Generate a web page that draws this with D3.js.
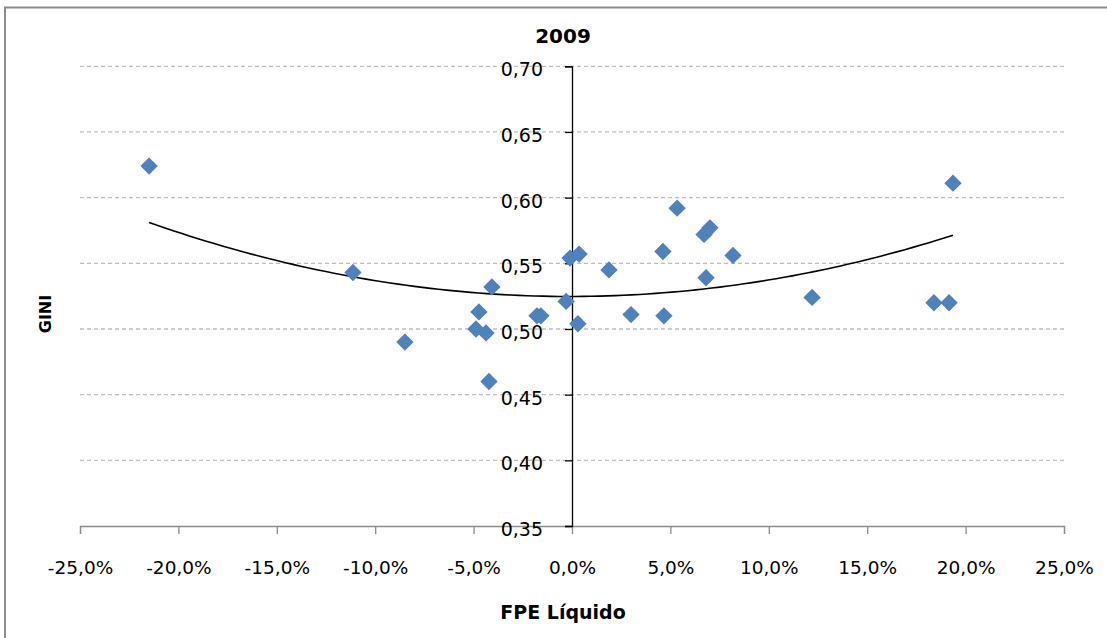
<!DOCTYPE html>
<html>
<head>
<meta charset="utf-8">
<script src="https://cdn.jsdelivr.net/npm/d3@7"></script>
<style>
  body { margin: 0; background: #fff; }
  svg text { font-family: "DejaVu Sans", sans-serif; }
</style>
</head>
<body>
<div id="chart"></div>
<script>
// FPE Liquido (fraction) vs GINI, 2009
const fpe = [-0.2149, -0.1113, -0.0849, -0.0407, -0.0473, -0.0488, -0.0437, -0.0422,
  -0.0178, -0.0158, -0.0030, -0.0010, 0.0036, 0.0030, 0.0188, 0.0300, 0.0462, 0.0467,
  0.0534, 0.0671, 0.0701, 0.0681, 0.0818, 0.1220, 0.1839, 0.1916, 0.1936];
const gini = [0.624, 0.543, 0.490, 0.532, 0.513, 0.500, 0.497, 0.460,
  0.510, 0.510, 0.521, 0.554, 0.557, 0.504, 0.545, 0.511, 0.559, 0.510,
  0.592, 0.572, 0.577, 0.539, 0.556, 0.524, 0.520, 0.520, 0.611];
const xTicks = [-0.25, -0.20, -0.15, -0.10, -0.05, 0, 0.05, 0.10, 0.15, 0.20, 0.25];
const yTicks = [0.35, 0.40, 0.45, 0.50, 0.55, 0.60, 0.65, 0.70];

const W = 1107, H = 638;
const svg = d3.select("#chart").append("svg").attr("width", W).attr("height", H);

// chart area border (right/bottom edges are cropped in the original)
svg.append("rect")
  .attr("x", 5).attr("y", 7.5).attr("width", W + 10).attr("height", H + 10)
  .attr("fill", "#fff").attr("stroke", "#8c8c8c").attr("stroke-width", 2);

const x = d3.scaleLinear().domain([-0.25, 0.25]).range([80, 1064]);
const y = d3.scaleLinear().domain([0.35, 0.70]).range([526, 66.3]);

const loc = d3.formatLocale({ decimal: ",", thousands: ".", grouping: [3], currency: ["", ""], minus: "-", percent: "%" });
const fmtX = loc.format(".1%");
const fmtY = loc.format(".2f");

// gridlines
svg.append("g").selectAll("line")
  .data(yTicks.filter(d => d > 0.35))
  .join("line")
  .attr("x1", x(-0.25)).attr("x2", x(0.25))
  .attr("y1", d => y(d)).attr("y2", d => y(d))
  .attr("stroke", "#bdbdbd").attr("stroke-width", 1.3)
  .attr("stroke-dasharray", "4,3");

// x axis (gray) at y = 0.35
const xAxis = svg.append("g")
  .attr("transform", `translate(0,${y(0.35)})`)
  .call(d3.axisBottom(x).tickValues(xTicks).tickFormat(fmtX).tickSize(8).tickPadding(27));
xAxis.select(".domain").attr("stroke", "#8c8c8c").attr("stroke-width", 1.3);
xAxis.selectAll(".tick line").attr("stroke", "#8c8c8c").attr("stroke-width", 1.3);
xAxis.selectAll(".tick text").attr("font-size", 18.5).attr("fill", "#000")
  .attr("font-family", "DejaVu Sans");

// y axis (black) at x = 0
const yAxis = svg.append("g")
  .attr("transform", `translate(${x(0)},0)`)
  .call(d3.axisLeft(y).tickValues(yTicks).tickFormat(fmtY).tickSize(7).tickPadding(22));
yAxis.select(".domain").attr("stroke", "#000").attr("stroke-width", 1.3);
yAxis.selectAll(".tick line").attr("stroke", "#000").attr("stroke-width", 1.3);
yAxis.selectAll(".tick text").attr("font-size", 19).attr("fill", "#000")
  .attr("font-family", "DejaVu Sans").attr("dy", "0.5em");

// quadratic least-squares trend (Excel polynomial trendline, order 2)
function polyFit2(xs, ys) {
  let s = [0, 0, 0, 0, 0], t = [0, 0, 0];
  xs.forEach((xi, i) => {
    for (let k = 0; k < 5; k++) s[k] += Math.pow(xi, k);
    for (let k = 0; k < 3; k++) t[k] += ys[i] * Math.pow(xi, k);
  });
  const A = [[s[0], s[1], s[2], t[0]], [s[1], s[2], s[3], t[1]], [s[2], s[3], s[4], t[2]]];
  for (let i = 0; i < 3; i++) {
    for (let j = i + 1; j < 3; j++) {
      const f = A[j][i] / A[i][i];
      for (let k = i; k < 4; k++) A[j][k] -= f * A[i][k];
    }
  }
  const c = [0, 0, 0];
  for (let i = 2; i >= 0; i--) {
    let v = A[i][3];
    for (let k = i + 1; k < 3; k++) v -= A[i][k] * c[k];
    c[i] = v / A[i][i];
  }
  return c;
}
const coef = polyFit2(fpe, gini);
const xmin = d3.min(fpe), xmax = d3.max(fpe);
const trendPts = d3.range(0, 101).map(i => {
  const xv = xmin + (xmax - xmin) * i / 100;
  return [xv, coef[0] + coef[1] * xv + coef[2] * xv * xv];
});
svg.append("path")
  .datum(trendPts)
  .attr("d", d3.line().x(d => x(d[0])).y(d => y(d[1])))
  .attr("fill", "none").attr("stroke", "#000").attr("stroke-width", 1.6);

// points
const diamond = d3.symbol().type(d3.symbolSquare).size(150);
svg.append("g").selectAll("path")
  .data(fpe.map((d, i) => [d, gini[i]]))
  .join("path")
  .attr("d", diamond)
  .attr("transform", d => `translate(${x(d[0])},${y(d[1])}) rotate(45)`)
  .attr("fill", "#4f81bd");

// titles
svg.append("text").attr("x", 563).attr("y", 43).attr("text-anchor", "middle")
  .attr("font-size", 20).attr("font-weight", "bold").text("2009");
svg.append("text").attr("x", 563).attr("y", 619).attr("text-anchor", "middle")
  .attr("font-size", 19).attr("font-weight", "bold").text("FPE Líquido");
svg.append("text").attr("transform", "translate(51,314) rotate(-90)")
  .attr("text-anchor", "middle")
  .attr("font-size", 16).attr("font-weight", "bold").text("GINI");
</script>
</body>
</html>
